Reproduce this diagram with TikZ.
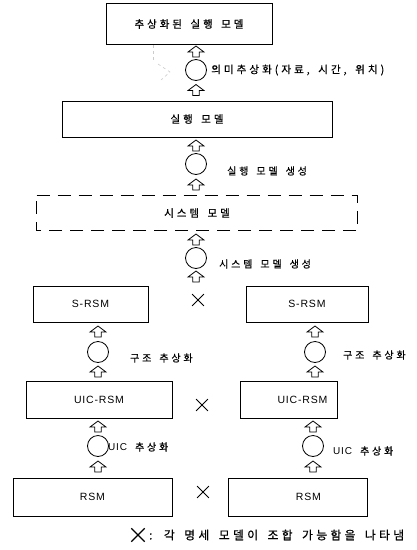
\documentclass[tikz,border=0pt]{standalone}
\usepackage{fontspec}
\setmainfont{Liberation Sans}
\newfontfamily\kr[LetterSpace=28,WordSpace=1.6,FakeBold=0.6]{Noto Sans CJK KR}
\newfontfamily\lat[LetterSpace=8]{Liberation Sans}
\usetikzlibrary{shapes.misc}
\begin{document}
\begin{tikzpicture}[x=1pt,y=-1pt,
 box/.style={draw, line width=0.8pt, inner sep=0pt, font=\kr\fontsize{10.5}{13}\selectfont},
 lbox/.style={draw, line width=0.8pt, inner sep=0pt, font=\lat\fontsize{10.5}{12}\selectfont},
 upar/.pic={\coordinate (-c) at (0,0);
   \draw[line width=0.8pt, line join=miter] (0,-5.5) -- (8,0.5) -- (3.3,0.5) -- (3.3,5.5) -- (-3.3,5.5) -- (-3.3,0.5) -- (-8,0.5) -- cycle;},
 proc/.style={circle, draw, line width=0.8pt, minimum size=21pt, inner sep=0pt},
 lab/.style={anchor=west, inner sep=0pt, font=\kr\fontsize{10}{12}\selectfont},
 combo/.style={cross out, draw, line width=0.8pt, minimum size=11pt, inner sep=0pt},
]
\useasboundingbox (0,0) rectangle (416,550);
% main column
\node[box, minimum width=166pt, minimum height=41pt] (abs) at (189,24) {추상화된 실행 모델};
\pic (a1) at (196,51.5) {upar};
\node[proc] (c1) at (196,70) {};
\node[lab, font=\kr\fontsize{10.6}{12}\selectfont] (l1) at (211,70) {의미추상화(자료, 시간, 위치)};
\pic (a2) at (196,90) {upar};
\node[box, minimum width=270pt, minimum height=36pt] (exe) at (197,119) {실행 모델};
\pic (a3) at (196,145.5) {upar};
\node[proc] (c2) at (196,164) {};
\node[lab] (l2) at (227,171) {실행 모델 생성};
\pic (a4) at (196,184.5) {upar};
\node[box, draw=none, minimum width=320pt, minimum height=34pt] (sys) at (197,213) {시스템 모델};
\draw[line width=0.8pt, dash pattern=on 13pt off 8pt] (sys.north west) -- (sys.north east) -- (sys.south east) -- (sys.south west) -- cycle;
\pic (a5) at (196,239.5) {upar};
\node[proc] (c3) at (196,258) {};
\node[lab] (l3) at (219,264) {시스템 모델 생성};
\pic (a6) at (196,276.5) {upar};
% faint hint
\coordinate (h1) at (153,45);
\coordinate (h2) at (153,62);
\coordinate (h3) at (158,64);
\coordinate (h4) at (170,72);
\coordinate (h5) at (161,80);
\draw[gray!40, dashed, line width=0.6pt] (h1) -- (h2);
\draw[gray!40, dashed, line width=0.6pt] (h3) -- (h4) -- (h5);
% S-RSM row
\node[lbox, minimum width=115pt, minimum height=36pt] (sl) at (90.5,304) {S-RSM};
\node[lbox, minimum width=122pt, minimum height=36pt] (sr) at (307,304) {S-RSM};
\node[combo] (x1) at (198,300) {};
% left column
\pic (la1) at (98,331.5) {upar};
\node[proc] (lc1) at (98,352) {};
\node[lab] (ll1) at (130,358) {구조 추상화};
\pic (la2) at (98,371.5) {upar};
\pic (la3) at (98,426.5) {upar};
\node[proc] (lc2) at (98,446) {};
\node[lab] (ll2) at (108,447) {{\lat UIC} 추상화};
\pic (la4) at (98,466.5) {upar};
% right column
\pic (ra1) at (315,331.5) {upar};
\node[proc] (rc1) at (315,352) {};
\node[lab] (rl1) at (343,355) {구조 추상화};
\pic (ra2) at (315,371.5) {upar};
\pic (ra3) at (313,426.5) {upar};
\node[proc] (rc2) at (313,446) {};
\node[lab] (rl2) at (333,451) {{\lat UIC} 추상화};
\pic (ra4) at (313,466.5) {upar};
% UIC row
\node[lbox, minimum width=146pt, minimum height=37pt] (ul) at (99,399.5) {UIC-RSM};
\node[lbox, minimum width=97pt, minimum height=37pt, label={[lbox,draw=none,xshift=14pt]center:UIC-RSM}] (ur) at (288.5,399.5) {};
\node[combo] (x2) at (202,405) {};
% RSM row
\node[lbox, minimum width=159pt, minimum height=38pt] (rl) at (92.5,497) {RSM};
\node[lbox, minimum width=139pt, minimum height=38pt, label={[lbox,draw=none,xshift=11pt]center:RSM}] (rr) at (297.5,497) {};
\node[combo] (x3) at (203,492) {};
% legend
\node[combo, line width=1.3pt, minimum size=12pt] (xl) at (138,535) {};
\node[lab, font=\kr\fontsize{11.8}{13}\selectfont] (leg) at (149,535) {: 각 명세 모델이 조합 가능함을 나타냄};
\end{tikzpicture}
\end{document}
